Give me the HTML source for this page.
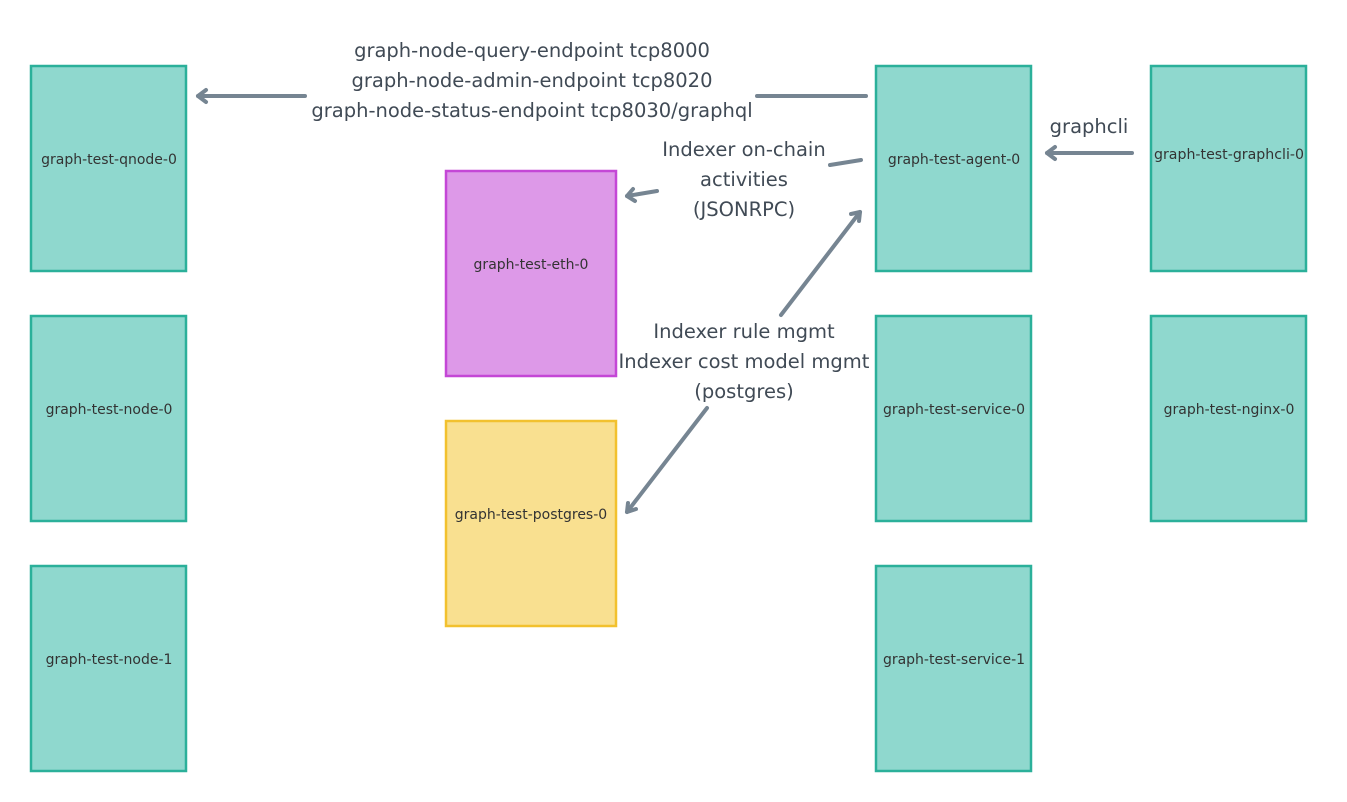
<!DOCTYPE html>
<html><head><style>
html,body{margin:0;padding:0;background:#fff;}
svg{display:block;}
text{font-family:"DejaVu Sans","Liberation Sans",sans-serif;}
.b{font-size:14px;fill:#333;text-anchor:middle;dominant-baseline:middle;}
.l{font-size:19.5px;fill:#404a55;text-anchor:middle;}
</style></head><body>
<svg width="1347" height="802" viewBox="0 0 1347 802">
<g stroke-width="2.5">
<g fill="#8fd8ce" stroke="#2bb09a">
<rect x="31" y="66" width="155" height="205"/>
<rect x="31" y="316" width="155" height="205"/>
<rect x="31" y="566" width="155" height="205"/>
<rect x="876" y="66" width="155" height="205"/>
<rect x="876" y="316" width="155" height="205"/>
<rect x="876" y="566" width="155" height="205"/>
<rect x="1151" y="66" width="155" height="205"/>
<rect x="1151" y="316" width="155" height="205"/>
</g>
<rect x="446" y="171" width="170" height="205" fill="#dd99e8" stroke="#c447d6"/>
<rect x="446" y="421" width="170" height="205" fill="#f9e090" stroke="#f2c12e"/>
</g>
<text class="b" x="109" y="160">graph-test-qnode-0</text>
<text class="b" x="109" y="410">graph-test-node-0</text>
<text class="b" x="109" y="660">graph-test-node-1</text>
<text class="b" x="531" y="265">graph-test-eth-0</text>
<text class="b" x="531" y="515">graph-test-postgres-0</text>
<text class="b" x="954" y="160">graph-test-agent-0</text>
<text class="b" x="954" y="410">graph-test-service-0</text>
<text class="b" x="954" y="660">graph-test-service-1</text>
<text class="b" x="1229" y="155" textLength="150" lengthAdjust="spacingAndGlyphs">graph-test-graphcli-0</text>
<text class="b" x="1229" y="410">graph-test-nginx-0</text>
<g stroke="#768592" stroke-width="4" fill="none" stroke-linecap="round" stroke-linejoin="round">
<line x1="305" y1="96" x2="198" y2="96"/><polyline points="206,90 198,96 206,102"/>
<line x1="757" y1="96" x2="866" y2="96"/>
<line x1="1132" y1="153" x2="1047" y2="153"/><polyline points="1055,147 1047,153 1055,159"/>
<line x1="830" y1="165" x2="861" y2="160"/>
<line x1="657" y1="191" x2="627" y2="196"/><polyline points="633,189 627,196 635,201"/>
<line x1="781" y1="315" x2="860" y2="212"/><polyline points="851,214 860,212 859,221"/>
<line x1="707" y1="408" x2="627" y2="512"/><polyline points="628,503 627,512 636,509"/>
</g>
<text class="l" x="532" y="57">graph-node-query-endpoint tcp8000</text>
<text class="l" x="532" y="87">graph-node-admin-endpoint tcp8020</text>
<text class="l" x="532" y="117">graph-node-status-endpoint tcp8030/graphql</text>
<text class="l" x="1089" y="133">graphcli</text>
<text class="l" x="744" y="156">Indexer on-chain</text>
<text class="l" x="744" y="186">activities</text>
<text class="l" x="744" y="216">(JSONRPC)</text>
<text class="l" x="744" y="338">Indexer rule mgmt</text>
<text class="l" x="744" y="368">Indexer cost model mgmt</text>
<text class="l" x="744" y="398">(postgres)</text>
</svg>
</body></html>
